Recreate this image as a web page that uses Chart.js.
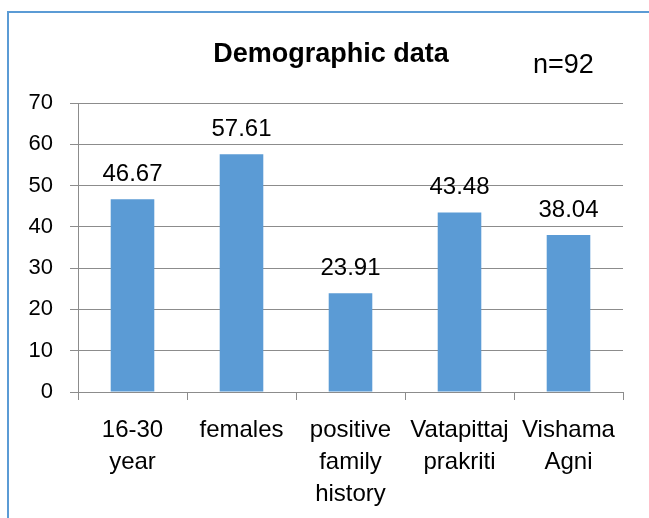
<!DOCTYPE html>
<html>
<head>
<meta charset="utf-8">
<script src="https://cdn.jsdelivr.net/npm/chart.js@4.4.0/dist/chart.umd.min.js"></script>
<style>
    html, body { margin: 0; padding: 0; background: #fff; overflow: hidden; }
    #wrap { width: 649px; height: 518px; }
</style>
</head>
<body>
<div id="wrap"><canvas id="demoChart" width="649" height="518"></canvas></div>
<script>
const categories = [['16-30', 'year'], 'females', ['positive', 'family', 'history'], ['Vatapittaj', 'prakriti'], ['Vishama', 'Agni']];
const percentValues = [46.67, 57.61, 23.91, 43.48, 38.04];
const yTicks = [0, 10, 20, 30, 40, 50, 60, 70];
const chartTitle = 'Demographic data';
const sampleNote = 'n=92';

const barBlue = '#5B9BD5';
const gridGray = '#8c8c8c';
const textFont = '"Liberation Sans", Arial, sans-serif';

// frame, title and the n= note, drawn like the Excel chart box
const decorPlugin = {
    id: 'decor',
    beforeDraw(chart) {
        const ctx = chart.ctx;
        ctx.save();
        ctx.strokeStyle = barBlue;
        ctx.lineWidth = 2;
        ctx.strokeRect(8, 12, 700, 600);
        ctx.fillStyle = '#000';
        ctx.textBaseline = 'alphabetic';
        ctx.textAlign = 'center';
        ctx.font = 'bold 27px ' + textFont;
        ctx.fillText(chartTitle, 331, 62);
        ctx.textAlign = 'left';
        ctx.font = '27px ' + textFont;
        ctx.fillText(sampleNote, 533, 73);
        ctx.restore();
    }
};

// value labels above each bar
const valueLabels = {
    id: 'valueLabels',
    afterDatasetsDraw(chart) {
        const ctx = chart.ctx;
        const meta = chart.getDatasetMeta(0);
        ctx.save();
        ctx.fillStyle = '#000';
        ctx.font = '24px ' + textFont;
        ctx.textAlign = 'center';
        ctx.textBaseline = 'alphabetic';
        meta.data.forEach((bar, i) => {
            ctx.fillText(percentValues[i].toFixed(2), bar.x, bar.y - 18);
        });
        ctx.restore();
    }
};

const ctx = document.getElementById('demoChart').getContext('2d');
const chart = new Chart(ctx, {
    type: 'bar',
    data: {
        labels: categories,
        datasets: [{
            data: percentValues,
            backgroundColor: barBlue,
            borderWidth: 0,
            barPercentage: 0.4,
            categoryPercentage: 1.0
        }]
    },
    options: {
        responsive: false,
        animation: false,
        devicePixelRatio: 1,
        layout: { padding: { top: 103, right: 26, left: 0, bottom: 0 } },
        plugins: {
            legend: { display: false },
            title: { display: false },
            tooltip: { enabled: false }
        },
        scales: {
            x: {
                afterFit: (scale) => { scale.height = 126; },
                grid: {
                    offset: true,
                    drawOnChartArea: false,
                    drawTicks: true,
                    tickLength: 8,
                    color: gridGray
                },
                border: { color: gridGray, width: 1 },
                ticks: {
                    color: '#000',
                    padding: 14,
                    maxRotation: 0,
                    autoSkip: false,
                    font: { family: textFont, size: 24, lineHeight: 1.333 }
                }
            },
            y: {
                min: 0,
                max: 70,
                afterFit: (scale) => { scale.width = 78; },
                afterBuildTicks: (scale) => { scale.ticks = yTicks.map(v => ({ value: v })); },
                grid: {
                    color: gridGray,
                    tickLength: 8
                },
                border: { color: gridGray, width: 1 },
                ticks: {
                    color: '#000',
                    padding: 17,
                    font: { family: textFont, size: 22 }
                }
            }
        }
    },
    plugins: [decorPlugin, valueLabels]
});
</script>
</body>
</html>
